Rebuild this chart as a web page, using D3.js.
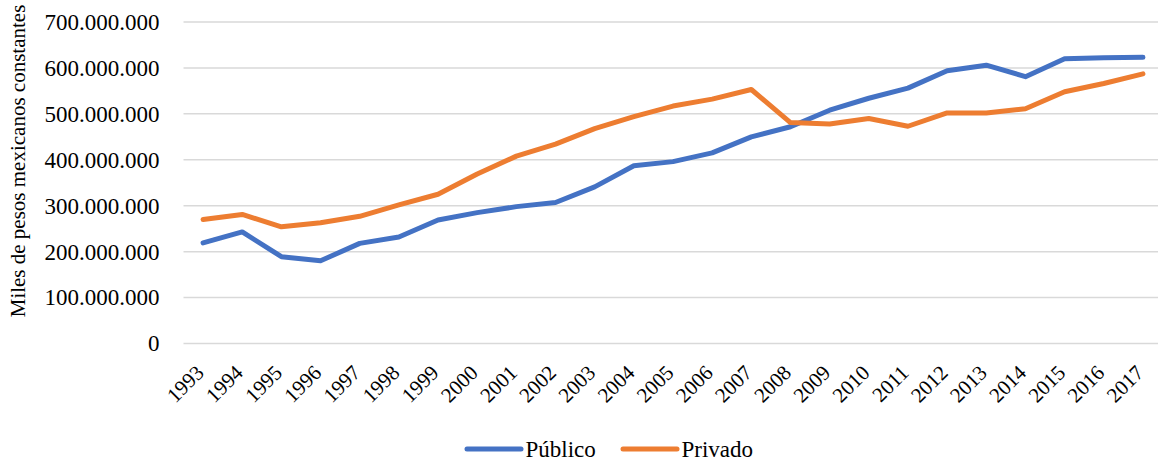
<!DOCTYPE html>
<html>
<head>
<meta charset="utf-8">
<script src="https://cdn.jsdelivr.net/npm/d3@7"></script>
<style>
  body { margin: 0; background: #fff; }
  svg text { font-family: "Liberation Serif", "Times New Roman", Times, "DejaVu Serif", serif !important; fill: #000; }
</style>
</head>
<body>
<svg id="chart" width="1158" height="466"></svg>
<script>
// Inversión en miles de pesos mexicanos constantes, 1993–2017
const years = ["1993","1994","1995","1996","1997","1998","1999","2000","2001","2002","2003","2004","2005","2006","2007","2008","2009","2010","2011","2012","2013","2014","2015","2016","2017"];
const publico = [219e6,243e6,189e6,180e6,218e6,232e6,269e6,285e6,298e6,307e6,341e6,387e6,396e6,415e6,450e6,472e6,508e6,534e6,556e6,594e6,606e6,581e6,620e6,622e6,623e6];
const privado = [270e6,281e6,254e6,263e6,277e6,302e6,325e6,369e6,408e6,434e6,468e6,494e6,517e6,532e6,553e6,481e6,478e6,490e6,473e6,502e6,502e6,511e6,548e6,566e6,587e6];
const yTicks = [0,100e6,200e6,300e6,400e6,500e6,600e6,700e6];
const seriesNames = ["Público","Privado"];
const seriesColors = ["#4472C4","#ED7D31"];

const svg = d3.select("#chart");
const plotLeft = 183.5, plotRight = 1162.5, plotTop = 22, plotBottom = 343.5;

const x = d3.scalePoint().domain(years).range([plotLeft, plotRight]).padding(0.5);
const y = d3.scaleLinear().domain([0, 700e6]).range([plotBottom, plotTop]);

const fmt = v => d3.format(",")(v).replace(/,/g, ".");

// gridlines
svg.append("g")
  .selectAll("line").data(yTicks).join("line")
  .attr("x1", plotLeft).attr("x2", 1158)
  .attr("y1", d => y(d)).attr("y2", d => y(d))
  .attr("stroke", "#d9d9d9").attr("stroke-width", 1.5);

// y axis labels
const yAxis = d3.axisLeft(y).tickValues(yTicks).tickFormat(fmt).tickSize(0).tickPadding(24);
const gy = svg.append("g").attr("transform", `translate(${plotLeft},0)`).call(yAxis);
gy.select(".domain").remove();
gy.attr("font-family", null).attr("font-size", null);
gy.selectAll("text").style("font-size", "23px");

// x axis labels, rotated
const xAxis = d3.axisBottom(x).tickSize(0).tickPadding(0);
const gx = svg.append("g").attr("transform", `translate(0,${plotBottom})`).call(xAxis);
gx.select(".domain").remove();
gx.attr("font-family", null).attr("font-size", null);
gx.selectAll("text")
  .style("font-size", "21px")
  .attr("text-anchor", "end")
  .attr("dy", null).attr("y", null)
  .attr("transform", "translate(1.5,30.5) rotate(-45)");

// y axis title
svg.append("text")
  .attr("transform", `translate(24.5,161) rotate(-90)`)
  .attr("text-anchor", "middle")
  .style("font-size", "21px")
  .text("Miles de pesos mexicanos constantes");

// series lines
const line = d3.line().x((d, i) => x(years[i])).y(d => y(d));
[publico, privado].forEach((vals, k) => {
  svg.append("path").datum(vals)
    .attr("fill", "none")
    .attr("stroke", seriesColors[k])
    .attr("stroke-width", 5)
    .attr("stroke-linejoin", "round")
    .attr("stroke-linecap", "round")
    .attr("d", line);
});

// legend
const legendItems = [{ x: 467, name: seriesNames[0], color: seriesColors[0] },
                     { x: 623, name: seriesNames[1], color: seriesColors[1] }];
const lg = svg.append("g");
legendItems.forEach(it => {
  lg.append("line").attr("x1", it.x).attr("x2", it.x + 54).attr("y1", 449).attr("y2", 449)
    .attr("stroke", it.color).attr("stroke-width", 5).attr("stroke-linecap", "round");
  lg.append("text").attr("x", it.x + 58.5).attr("y", 456.7)
    .style("font-size", "23px").text(it.name);
});
</script>
</body>
</html>
